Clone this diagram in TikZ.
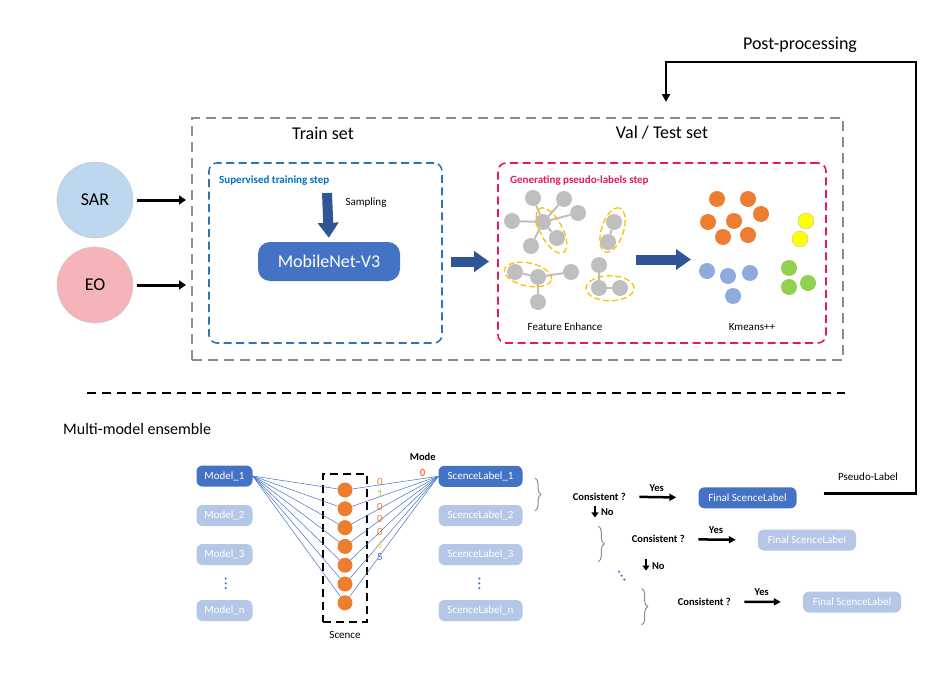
\documentclass[tikz,border=0pt]{standalone}
\usepackage{fontspec}
\setmainfont{Carlito}
\usetikzlibrary{arrows.meta,shapes.geometric,decorations.pathreplacing}

\definecolor{sarblue}{HTML}{BDD7EE}
\definecolor{eopink}{HTML}{F4B4B8}
\definecolor{boxgray}{HTML}{8C8C8C}
\definecolor{stepblue}{HTML}{2E75B6}
\definecolor{titleblue}{HTML}{0070C0}
\definecolor{arrowblue}{HTML}{2F5597}
\definecolor{netblue}{HTML}{4472C4}
\definecolor{paleblue}{HTML}{B4C7E7}
\definecolor{stepred}{HTML}{E6195A}
\definecolor{nodegray}{HTML}{BFBFBF}
\definecolor{ringgold}{HTML}{FFC000}
\definecolor{kor}{HTML}{ED7D31}
\definecolor{kye}{HTML}{FFFF00}
\definecolor{kbl}{HTML}{8FAADC}
\definecolor{kgr}{HTML}{92D050}
\definecolor{numyel}{HTML}{FFD966}

\tikzset{
  fsz/.style={font=\fontsize{#1}{#1}\selectfont},
  bfsz/.style={font=\fontsize{#1}{#1}\selectfont\bfseries},
  src/.style={circle, draw=gray!40, line width=0.6pt, minimum size=76pt, fsz=18},
  outerbox/.style={draw=boxgray, line width=2pt, dash pattern=on 10pt off 6pt},
  stepbox/.style={rounded corners=8pt, line width=1.6pt, dash pattern=on 8pt off 4.5pt},
  steptitle/.style={bfsz=11, inner sep=0pt, anchor=west},
  netbox/.style={fill=netblue, text=white, rounded corners=12pt, minimum width=142pt, minimum height=39pt, fsz=18},
  fatarrow/.style={arrowblue, line width=10pt, -{Triangle[length=15pt,width=20pt]}},
  inarrow/.style={line width=3pt, -{Triangle[length=7pt,width=9pt]}},
  gnode/.style={circle, fill=nodegray, minimum size=16pt, inner sep=0pt},
  gedge/.style={nodegray, line width=2pt},
  ring/.style={ellipse, draw=ringgold, line width=1.3pt, dash pattern=on 6pt off 3pt, inner sep=0pt},
  kdot/.style={circle, fill=#1, minimum size=16pt, inner sep=0pt},
  labelbox/.style={rounded corners=6pt, minimum height=21pt, text=white, fsz=11, inner sep=0pt},
  darkbox/.style={labelbox, fill=netblue},
  palebox/.style={labelbox, fill=paleblue},
  scenebox/.style={draw=black, line width=2pt, dash pattern=on 8pt off 5pt},
  sdot/.style={circle, fill=kor, minimum size=15pt, inner sep=0pt},
  link/.style={netblue, line width=0.5pt},
  smalltext/.style={fsz=11},
  boldsmall/.style={bfsz=10.5},
  bigtext/.style={fsz=18},
  dotmark/.style={circle, fill=netblue, minimum size=2.4pt, inner sep=0pt},
  bracestyle/.style={draw=boxgray, line width=1pt, decorate, decoration={brace, amplitude=6pt}},
  yesarrow/.style={line width=2.5pt, -{Triangle[length=7pt,width=7pt]}},
  noarrow/.style={line width=2.5pt, -{Triangle[length=5pt,width=7pt]}},
  ppline/.style={line width=2.8pt, -{Triangle[length=8pt,width=8pt]}},
}

\begin{document}
\begin{tikzpicture}[x=1pt,y=-1pt]
\useasboundingbox (0,0) rectangle (951,680);

% inputs
\node[src, fill=sarblue] (sar) at (95,200) {SAR};
\node[src, fill=eopink] (eo) at (95,285) {EO};

\node[outerbox, minimum width=651pt, minimum height=242pt] (outer) at (517.5,239) {};
\node[bigtext] (trainttl) at (323,133) {Train set};
\node[bigtext] (valttl) at (662,133) {Val / Test set};

\draw[inarrow, shorten <=4pt, shorten >=5pt] (sar) -- (sar -| outer.west);
\draw[inarrow, shorten <=4pt, shorten >=5pt] (eo) -- (eo -| outer.west);

% training step
\node[stepbox, draw=stepblue, minimum width=233pt, minimum height=180pt] (trainbox) at (325.5,253) {};
\node[steptitle, text=titleblue] (trainlbl) at (219,181) {Supervised training step};
\node[netbox] (mobile) at (329,261.5) {MobileNet-V3};
\coordinate (samplein) at (327,193);
\draw[fatarrow, shorten >=4pt] (samplein) -- (mobile.north);
\node[smalltext] (samplbl) at (366,203) {Sampling};

% pseudo label step
\node[stepbox, draw=stepred, minimum width=328pt, minimum height=180pt] (pseudobox) at (662,253) {};
\node[steptitle, text=stepred] (pseudolbl) at (510,181) {Generating pseudo-labels step};
\draw[fatarrow, shorten <=8pt, shorten >=8pt] (trainbox.east |- mobile) -- (pseudobox.west |- mobile);

\foreach \n/\x/\y in {f1/543/222, f2/533/198, f3/564/199, f4/578/213, f5/512/221, f6/531/246,
  f7/557/238, f8/614/222, f9/608/242, f10/515/272, f11/538/277, f12/571/272, f13/538/302,
  f14/599/265, f15/599/288, f16/620/288}
  \node[gnode] (\n) at (\x,\y) {};
\foreach \a/\b in {f1/f2, f1/f3, f1/f4, f1/f5, f1/f6, f1/f7, f8/f9, f10/f11, f11/f12, f11/f13, f14/f15, f15/f16}
  \draw[gedge] (\a) -- (\b);

\node[ring, minimum width=50pt, minimum height=22pt, rotate=-62] (r1) at (551.5,230.5) {};
\node[ring, minimum width=46pt, minimum height=22pt, rotate=72] (r2) at (612.5,230) {};
\node[ring, minimum width=48pt, minimum height=23pt, rotate=-12] (r3) at (528,274.5) {};
\node[ring, minimum width=48pt, minimum height=25pt] (r4) at (610,288.3) {};
\node[smalltext] (fetxt) at (565,327) {Feature Enhance};

\coordinate (fe) at (636,259.5);
\coordinate (km) at (691,259.5);
\draw[fatarrow] (fe) -- (km);

\foreach \n/\x/\y/\c in {k1/717/199/kor, k2/748/199/kor, k3/761/214/kor, k4/708/222/kor,
  k5/734/221/kor, k6/723/237/kor, k7/748/235/kor, k8/707/271/kbl, k9/728/276/kbl,
  k10/750/273/kbl, k11/733/296/kbl, k12/789/268/kgr, k13/789/287/kgr, k14/808/283/kgr}
  \node[kdot=\c] (\n) at (\x,\y) {};
\node[kdot=kye, draw=nodegray] (k15) at (806,221) {};
\node[kdot=kye, draw=nodegray] (k16) at (800,239) {};
\node[smalltext] (kmtxt) at (752,327) {Kmeans++};

% post-processing
\node[bigtext] (pptxt) at (800,45) {Post-processing};
\coordinate (ppturn) at (916,62);
\coordinate (ppin) at (666,118);

\draw[black, line width=2pt, dash pattern=on 9pt off 6pt] (87,393) -- (845,393);
\node[fsz=16, anchor=west, inner sep=0pt] (mmtxt) at (63,429) {Multi-model ensemble};

% ensemble
\node[darkbox, minimum width=56pt] (m1) at (224.5,476) {Model\_1};
\node[palebox, minimum width=56pt] (m2) at (224.5,515.5) {Model\_2};
\node[palebox, minimum width=56pt] (m3) at (224.5,554.5) {Model\_3};
\node[palebox, minimum width=56pt] (mn) at (224.5,610.5) {Model\_n};

\node[darkbox, minimum width=84pt] (sl1) at (480.5,476.3) {ScenceLabel\_1};
\node[palebox, minimum width=84pt] (sl2) at (480.5,515.5) {ScenceLabel\_2};
\node[palebox, minimum width=84pt] (sl3) at (480.5,554.5) {ScenceLabel\_3};
\node[palebox, minimum width=84pt] (sln) at (480.5,610.5) {ScenceLabel\_n};

\foreach \y [count=\i] in {578.5,583.3,588}{
  \node[dotmark] (md\i) at (225.7,\y) {};
  \node[dotmark] (sd\i) at (479.3,\y) {};
}

\node[scenebox, minimum width=44pt, minimum height=148pt] (scbox) at (344.7,547.5) {};
\foreach \i in {1,...,7}
  \node[sdot] (c\i) at (345,{490+18.8*(\i-1)}) {};
\foreach \i in {1,...,7}{
  \draw[link] (m1.east) -- (c\i);
  \draw[link] (c\i) -- (sl1.west);
}
\node[smalltext] (sctxt) at (345,635) {Scence};

\foreach \v/\c/\y [count=\i] in {0/kor/481.7, 1/kgr/494, 0/kor/506.7, 0/kor/519, 0/kor/532, 6/numyel/544.5, 5/netblue/557}
  \node[smalltext, text=\c, inner sep=0pt] (n\i) at (380,\y) {\v};
\node[boldsmall] (modetxt) at (422.7,456.7) {Mode};
\node[bfsz=11, text=kor, inner sep=0pt] (modeval) at (422.7,473.3) {0};

% consistency check
\draw[bracestyle] (535,478) -- (535,511);
\node[boldsmall] (cons1) at (599.3,496.7) {Consistent ?};
\node[darkbox, minimum width=98pt] (final1) at (747.5,497.8) {Final ScenceLabel};
\draw[yesarrow, shorten <=10pt, shorten >=22pt] (cons1.east) -- (final1.west);
\node[boldsmall] (yes1) at (656.7,487.7) {Yes};
\draw[noarrow] ([xshift=-4.3pt,yshift=-2pt]cons1.south) -- ++(0,11.5);
\node[boldsmall] (no1) at (607.3,512.3) {No};

\draw[bracestyle] (598.3,526) -- (598.3,561.7);
\node[boldsmall] (cons2) at (658.3,539.3) {Consistent ?};
\node[palebox, minimum width=98pt] (final2) at (807,540) {Final ScenceLabel};
\draw[yesarrow, shorten <=10pt, shorten >=22pt] (cons2.east) -- (final2.west);
\node[boldsmall] (yes2) at (716,530) {Yes};
\draw[noarrow] ([xshift=-12.3pt,yshift=-12pt]cons2.south) -- ++(0,12);
\node[boldsmall] (no2) at (658.3,566) {No};
\foreach \x/\y [count=\i] in {619/571.7, 621.7/575.7, 624.3/579.5}
  \node[dotmark] (dd\i) at (\x,\y) {};

\draw[bracestyle] (641.7,588.3) -- (641.7,625);
\node[boldsmall] (cons3) at (704.3,601.7) {Consistent ?};
\node[palebox, minimum width=98pt] (final3) at (852,602) {Final ScenceLabel};
\draw[yesarrow, shorten <=10pt, shorten >=22pt] (cons3.east) -- (final3.west);
\node[boldsmall] (yes3) at (761.7,592.3) {Yes};

\node[smalltext] (pltxt) at (868,477) {Pseudo-Label};
\draw[ppline, shorten <=27pt, shorten >=16pt] ([yshift=4.5pt]final1.east) -| (ppturn) -| (ppin);
\end{tikzpicture}
\end{document}
